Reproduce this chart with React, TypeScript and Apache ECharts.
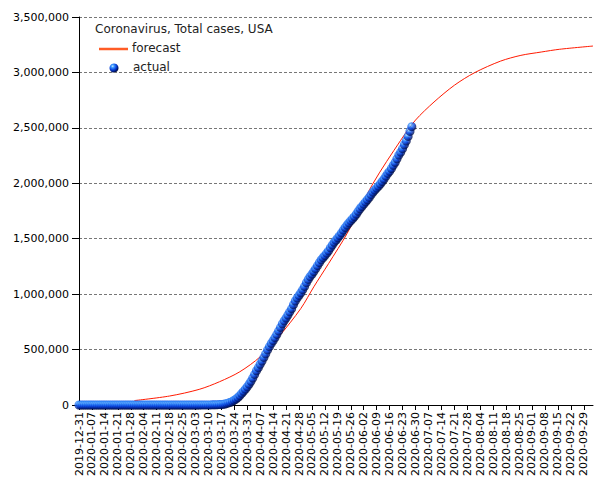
import React, { useEffect, useRef } from "react";
import * as echarts from "echarts";

// Weekly tick labels (every 7th day starting 2019-12-31)
const tickLabels = [
  "2019-12-31", "2020-01-07", "2020-01-14", "2020-01-21", "2020-01-28",
  "2020-02-04", "2020-02-11", "2020-02-18", "2020-02-25", "2020-03-03",
  "2020-03-10", "2020-03-17", "2020-03-24", "2020-03-31", "2020-04-07",
  "2020-04-14", "2020-04-21", "2020-04-28", "2020-05-05", "2020-05-12",
  "2020-05-19", "2020-05-26", "2020-06-02", "2020-06-09", "2020-06-16",
  "2020-06-23", "2020-06-30", "2020-07-07", "2020-07-14", "2020-07-21",
  "2020-07-28", "2020-08-04", "2020-08-11", "2020-08-18", "2020-08-25",
  "2020-09-01", "2020-09-08", "2020-09-15", "2020-09-22", "2020-09-29",
];
const dayCount = 279; // 2019-12-31 .. 2020-10-04

// Actual total cases, daily from 2019-12-31
const actualDec = [0];
const actualJan = [
  0, 0, 0, 0, 0, 0, 0, 0, 0, 0, 0, 0, 0, 0, 0, 0, 0, 0, 0, 0, 0,
  1, 1, 2, 2, 5, 5, 5, 5, 5, 6,
];
const actualFeb = [
  7, 8, 11, 11, 11, 12, 12, 12, 12, 12, 13, 13, 14, 15, 15, 15, 15, 15, 15, 15,
  15, 35, 35, 35, 53, 53, 59, 60, 62,
];
const actualMar = [
  68, 75, 100, 124, 158, 221, 319, 435, 541, 704,
  994, 1301, 1630, 2183, 2770, 3613, 4596, 6344, 9197, 13779,
  19367, 24192, 33592, 43781, 54856, 68211, 85435, 104126, 123578, 142735,
  163539,
];
const actualApr = [
  188172, 213372, 243453, 275582, 308850, 337072, 366667, 396223, 429052, 461437,
  496535, 526396, 555313, 580619, 607670, 636350, 667801, 699706, 732197, 759086,
  784326, 811865, 840351, 869170, 905358, 938154, 965785, 988197, 1012582, 1039909,
];
const actualMay = [
  1069424, 1103461, 1132539, 1158040, 1180375, 1204351, 1229331, 1257023, 1283929, 1309550,
  1329260, 1347881, 1369376, 1390406, 1417774, 1442824, 1467820, 1486757, 1508308, 1528568,
  1551853, 1577147, 1600937, 1622670, 1643246, 1662302, 1681212, 1699933, 1721750, 1747087,
  1770384,
];
const actualJun = [
  1790191, 1811277, 1831821, 1851520, 1872660, 1897380, 1920061, 1938823, 1956421, 1973797,
  1994283, 2016027, 2038344, 2063812, 2088569, 2108146, 2133321, 2162144, 2188198, 2220961,
  2254516, 2280912, 2312302, 2347491, 2381369, 2422312, 2467837, 2510259,
];

// Forecast curve: day index (from 2019-12-31) and value
const forecastDays = [30, 49, 65, 76, 87, 98, 108, 120, 127, 135, 145, 159, 174, 182, 192, 203, 214, 228, 239, 250, 260, 278];
const forecastValues = [
  40000, 81000, 141000, 210000, 300000, 435000, 615000, 871000, 1066000, 1276000,
  1547000, 1998000, 2388000, 2570000, 2733000, 2884000, 2998000, 3102000, 3154000,
  3184000, 3209000, 3238000,
];

const yMin = 0;
const yMax = 3500000;
const yInterval = 500000;

const FONT = "DejaVu Sans";

const ballColor = () =>
  new echarts.graphic.RadialGradient(0.35, 0.3, 0.8, [
    { offset: 0, color: "#cfeaff" },
    { offset: 0.2, color: "#3f9bff" },
    { offset: 0.5, color: "#0a45e0" },
    { offset: 0.75, color: "#001a7a" },
    { offset: 1, color: "#00061e" },
  ]);

export default function App() {
  const ref = useRef<HTMLDivElement>(null);

  useEffect(() => {
    if (!ref.current) return;
    const chart = echarts.init(ref.current, null, { renderer: "svg" });

    const actual = [
      ...actualDec, ...actualJan, ...actualFeb, ...actualMar,
      ...actualApr, ...actualMay, ...actualJun,
    ];
    const categories = Array.from({ length: dayCount }, (_, i) => String(i));

    chart.setOption({
      animation: false,
      backgroundColor: "#ffffff",
      grid: {
        left: 79,
        right: 12,
        top: 17,
        bottom: 75,
        containLabel: false,
        outerBoundsMode: "none",
      },
      xAxis: {
        type: "category",
        data: categories,
        boundaryGap: false,
        axisLine: { lineStyle: { color: "#000", width: 1 } },
        axisTick: {
          interval: 6,
          length: 5,
          lineStyle: { color: "#000" },
        },
        axisLabel: {
          interval: 6,
          rotate: 90,
          margin: 7,
          fontFamily: FONT,
          fontSize: 11,
          color: "#000",
          formatter: (_v: string, idx: number) =>
            idx % 7 === 0 ? tickLabels[idx / 7] ?? "" : "",
        },
        splitLine: { show: false },
      },
      yAxis: {
        type: "value",
        min: yMin,
        max: yMax,
        interval: yInterval,
        axisLine: { show: true, lineStyle: { color: "#000", width: 1 } },
        axisTick: { show: true, length: 7, lineStyle: { color: "#000" } },
        axisLabel: {
          margin: 10,
          fontFamily: FONT,
          fontSize: 11,
          color: "#000",
          formatter: (v: number) => v.toLocaleString("en-US"),
        },
        splitLine: {
          show: true,
          lineStyle: { color: "#777", type: [3, 2], width: 1 },
        },
      },
      series: [
        {
          name: "forecast",
          type: "line",
          data: forecastDays.map((d, i) => [d, forecastValues[i]]),
          showSymbol: false,
          smooth: 0.3,
          lineStyle: { color: "#ff1a00", width: 1 },
          z: 2,
        },
        {
          name: "actual",
          type: "scatter",
          data: actual.map((v, i) => [i, v]),
          symbol: "circle",
          symbolSize: 9,
          clip: false,
          itemStyle: { color: ballColor() },
          z: 3,
        },
      ],
      graphic: [
        {
          type: "text",
          left: 95,
          top: 23,
          style: {
            text: "Coronavirus, Total cases, USA",
            font: `12px '${FONT}'`,
            fill: "#222",
          },
        },
        {
          type: "line",
          shape: { x1: 99, y1: 49, x2: 128, y2: 49 },
          style: { stroke: "#ff5c26", lineWidth: 2.5 },
        },
        {
          type: "text",
          left: 132,
          top: 42,
          style: { text: "forecast", font: `12px '${FONT}'`, fill: "#222" },
        },
        {
          type: "circle",
          shape: { cx: 114, cy: 68, r: 4.5 },
          style: { fill: ballColor() },
        },
        {
          type: "text",
          left: 133,
          top: 61,
          style: { text: "actual", font: `12px '${FONT}'`, fill: "#222" },
        },
      ],
    });

    return () => chart.dispose();
  }, []);

  return <div ref={ref} style={{ width: 605, height: 480, position: "absolute", left: 0, top: 0 }} />;
}
